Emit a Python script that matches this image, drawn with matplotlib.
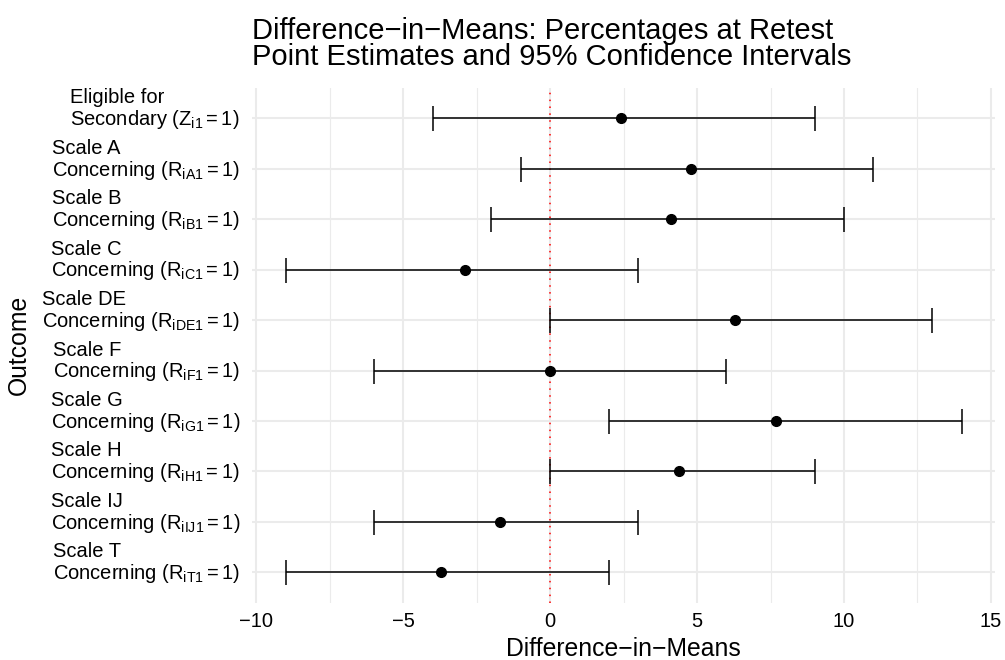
import matplotlib
matplotlib.use("Agg")
import matplotlib.pyplot as plt
from matplotlib.ticker import MultipleLocator
from matplotlib.transforms import ScaledTranslation

plt.rcParams['font.family'] = ['Liberation Sans', 'DejaVu Sans']
plt.rcParams['mathtext.fontset'] = 'custom'
plt.rcParams['mathtext.rm'] = 'Liberation Sans'
plt.rcParams['mathtext.it'] = 'Liberation Sans:italic'

# outcomes, top to bottom
labels = [
    "Eligible for\nSecondary ($\\mathrm{Z_{i1}=1}$)",
    "Scale A\nConcerning ($\\mathrm{R_{iA1}=1}$)",
    "Scale B\nConcerning ($\\mathrm{R_{iB1}=1}$)",
    "Scale C\nConcerning ($\\mathrm{R_{iC1}=1}$)",
    "Scale DE\nConcerning ($\\mathrm{R_{iDE1}=1}$)",
    "Scale F\nConcerning ($\\mathrm{R_{iF1}=1}$)",
    "Scale G\nConcerning ($\\mathrm{R_{iG1}=1}$)",
    "Scale H\nConcerning ($\\mathrm{R_{iH1}=1}$)",
    "Scale IJ\nConcerning ($\\mathrm{R_{iIJ1}=1}$)",
    "Scale T\nConcerning ($\\mathrm{R_{iT1}=1}$)",
]
estimate = [2.4, 4.8, 4.1, -2.9, 6.3, 0.0, 7.7, 4.4, -1.7, -3.7]
lower = [-4, -1, -2, -9, 0, -6, 2, 0, -6, -9]
upper = [9, 11, 10, 3, 13, 6, 14, 9, 3, 2]

n = len(labels)
ypos = [n - i for i in range(n)]

fig = plt.figure(figsize=(10.05, 6.6), dpi=100)
ax = fig.add_axes([0.2507, 0.0869, 0.7397, 0.7798])

err_lo = [e - l for e, l in zip(estimate, lower)]
err_hi = [u - e for e, u in zip(estimate, upper)]
ax.errorbar(estimate, ypos, xerr=[err_lo, err_hi], fmt='o', color='black',
            ecolor='black', elinewidth=1.1, capsize=9, capthick=1.1,
            markersize=7, zorder=3)
ax.axvline(0, color='red', linestyle=(0, (1, 3.5)), linewidth=1.1, zorder=2)

ax.set_xlim(-10.15, 15.15)
ax.set_ylim(0.4, n + 0.6)
ax.xaxis.set_major_locator(MultipleLocator(5))
ax.xaxis.set_minor_locator(MultipleLocator(2.5))
ax.set_yticks(ypos)
ax.set_yticklabels([])

# labels drawn as text so the second line sits on the gridline
lab_tr = ax.get_yaxis_transform() + ScaledTranslation(-0.12, 0.12, fig.dpi_scale_trans)
for y, lab in zip(ypos, labels):
    ax.text(0, y, lab, transform=lab_tr, fontsize=14.5, ha='right',
            va='center_baseline', multialignment='left', linespacing=1.05)

ax.grid(which='major', color='#EBEBEB', linewidth=1.5, zorder=0)
ax.grid(which='minor', axis='x', color='#EBEBEB', linewidth=0.8, zorder=0)
ax.set_axisbelow(True)
for s in ax.spines.values():
    s.set_visible(False)
ax.tick_params(which='both', length=0)
ax.tick_params(axis='x', labelsize=14.5, pad=7)

ax.set_xlabel("Difference\u2212in\u2212Means", fontsize=17.8, labelpad=4)
ax.set_ylabel("Outcome", fontsize=17.8)
ax.yaxis.set_label_coords(-0.297, 0.5)
ax.set_title("Difference\u2212in\u2212Means: Percentages at Retest\n"
             "Point Estimates and 95% Confidence Intervals",
             loc='left', fontsize=21, pad=16.5, linespacing=0.93)

fig.savefig("out.png", dpi=100)
